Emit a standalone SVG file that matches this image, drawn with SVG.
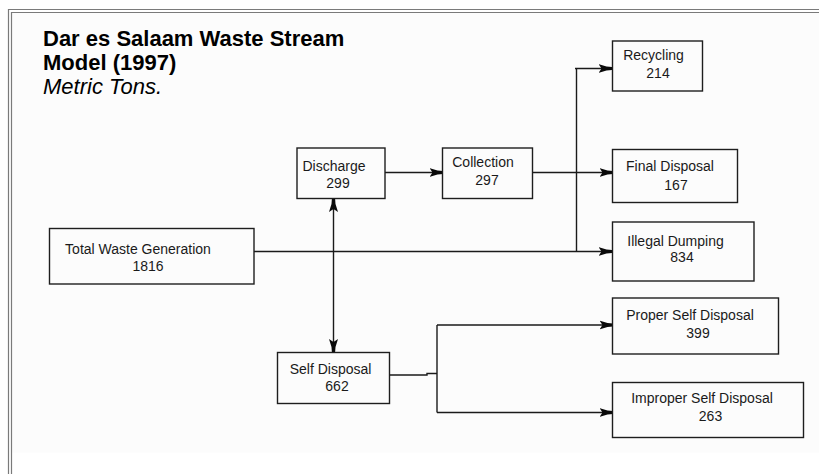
<svg xmlns="http://www.w3.org/2000/svg" width="819" height="474" viewBox="0 0 819 474">
  <style>
    .box { fill: none; stroke: #1e1e1e; stroke-width: 1.4; }
    .lbl { font-family: "Liberation Sans", Arial, sans-serif; font-size: 14px; fill: #1a1a1a; text-anchor: middle; }
    .title { font-family: "Liberation Sans", Arial, sans-serif; font-size: 22px; font-weight: bold; fill: #000; }
    .sub { font-family: "Liberation Sans", Arial, sans-serif; font-size: 22px; font-style: italic; fill: #000; }
    .conn { fill: none; stroke: #1a1a1a; stroke-width: 1.4; }
    .frame { fill: none; stroke: #7a7a7a; stroke-width: 1.2; }
  </style>
  <defs>
    <marker id="arr" markerUnits="userSpaceOnUse" markerWidth="14" markerHeight="10" refX="13.5" refY="5" orient="auto-start-reverse" viewBox="0 0 14 10">
      <path d="M0,0.5 L8,3 L13.5,3.4 L13.5,6.6 L8,7 L0,9.5 L3,5 Z" fill="#0a0a0a"/>
    </marker>
  </defs>
  <rect x="0" y="0" width="819" height="474" fill="#ffffff"/>
  <rect x="12" y="12.5" width="807" height="440" fill="#fcfcfc"/>
  <g id="frame">
    <path class="frame" d="M8.5,474 V9.5 H819"/>
    <path class="frame" d="M11.5,474 V12.5 H819"/>
  </g>
  <g id="title">
    <text class="title" x="43" y="46">Dar es Salaam Waste Stream</text>
    <text class="title" x="43" y="70">Model (1997)</text>
    <text class="sub" x="43" y="94">Metric Tons.</text>
  </g>
  <g id="connectors">
    <path class="conn" d="M254,251.5 H612" marker-end="url(#arr)"/>
    <path class="conn" d="M576.5,251.5 V68.5"/>
    <path class="conn" d="M575,68.5 H612" marker-end="url(#arr)"/>
    <path class="conn" d="M385,172.5 H443" marker-end="url(#arr)"/>
    <path class="conn" d="M532,172.5 H613" marker-end="url(#arr)"/>
    <path class="conn" d="M333.5,198.5 V352.5" marker-start="url(#arr)" marker-end="url(#arr)"/>
    <path class="conn" d="M389,375 H427 V373.5 H437"/>
    <path class="conn" d="M437,325 V412.5"/>
    <path class="conn" d="M437,325 H613" marker-end="url(#arr)"/>
    <path class="conn" d="M437,412.5 H613" marker-end="url(#arr)"/>
  </g>
  <g id="total-waste-generation">
    <rect class="box" x="49.5" y="228.5" width="204.5" height="55.5"/>
    <text class="lbl" x="138" y="253.5">Total Waste Generation</text>
    <text class="lbl" x="148" y="271">1816</text>
  </g>
  <g id="discharge">
    <rect class="box" x="297" y="148" width="88" height="50.5"/>
    <text class="lbl" x="334" y="170.5">Discharge</text>
    <text class="lbl" x="338" y="188">299</text>
  </g>
  <g id="collection">
    <rect class="box" x="442.5" y="148" width="90" height="50.5"/>
    <text class="lbl" x="483" y="167">Collection</text>
    <text class="lbl" x="487" y="185">297</text>
  </g>
  <g id="self-disposal">
    <rect class="box" x="277.5" y="352.5" width="112" height="51"/>
    <text class="lbl" x="330.5" y="373.5">Self Disposal</text>
    <text class="lbl" x="337" y="391">662</text>
  </g>
  <g id="recycling">
    <rect class="box" x="612.5" y="41" width="90" height="50"/>
    <text class="lbl" x="653.5" y="59.5">Recycling</text>
    <text class="lbl" x="658" y="77.5">214</text>
  </g>
  <g id="final-disposal">
    <rect class="box" x="612.5" y="149.5" width="125" height="53"/>
    <text class="lbl" x="670" y="171">Final Disposal</text>
    <text class="lbl" x="676" y="189.5">167</text>
  </g>
  <g id="illegal-dumping">
    <rect class="box" x="612.5" y="222" width="141.5" height="59"/>
    <text class="lbl" x="675.5" y="246">Illegal Dumping</text>
    <text class="lbl" x="682" y="262">834</text>
  </g>
  <g id="proper-self-disposal">
    <rect class="box" x="612.5" y="298" width="166" height="56"/>
    <text class="lbl" x="690" y="320">Proper Self Disposal</text>
    <text class="lbl" x="698" y="337.5">399</text>
  </g>
  <g id="improper-self-disposal">
    <rect class="box" x="612.5" y="382.5" width="191" height="55"/>
    <text class="lbl" x="702" y="403">Improper Self Disposal</text>
    <text class="lbl" x="710.5" y="420.5">263</text>
  </g>
</svg>
